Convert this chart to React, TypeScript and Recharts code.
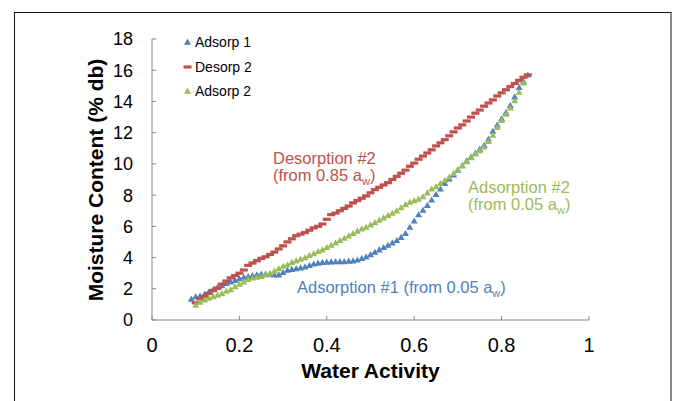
import React from 'react';
import { ScatterChart, Scatter, XAxis, YAxis, Legend } from 'recharts';

// water activity (x) and moisture content, % db (y)
const adsorp1Aw = [
  0.09, 0.10, 0.11, 0.12, 0.13, 0.14, 0.15, 0.16, 0.17, 0.18, 0.19, 0.20, 0.21, 0.22, 0.23, 0.24,
  0.25, 0.26, 0.27, 0.28, 0.29, 0.30, 0.31, 0.32, 0.33, 0.34, 0.35, 0.36, 0.37, 0.38, 0.39, 0.40,
  0.41, 0.42, 0.43, 0.44, 0.45, 0.46, 0.47, 0.48, 0.49, 0.50, 0.51, 0.52, 0.53, 0.54, 0.55, 0.56,
  0.57, 0.58, 0.59, 0.60, 0.61, 0.62, 0.63, 0.64, 0.65, 0.66, 0.67, 0.68, 0.69, 0.70, 0.71, 0.72,
  0.73, 0.74, 0.75, 0.76, 0.77, 0.78, 0.79, 0.80, 0.81, 0.82, 0.83, 0.84, 0.85, 0.86,
];
const adsorp1Mc = [
  1.35, 1.5, 1.55, 1.65, 1.8, 1.95, 2.1, 2.2, 2.35, 2.45, 2.55, 2.65, 2.75, 2.8, 2.85, 2.9,
  2.95, 2.95, 2.95, 2.9, 2.9, 3.05, 3.2, 3.25, 3.3, 3.35, 3.4, 3.5, 3.6, 3.65, 3.7, 3.72,
  3.73, 3.74, 3.75, 3.75, 3.78, 3.8, 3.85, 3.95, 4.05, 4.2, 4.35, 4.5, 4.65, 4.8, 4.95, 5.1,
  5.3, 5.55, 5.95, 6.35, 6.75, 7.05, 7.35, 7.7, 8.05, 8.4, 8.75, 9.05, 9.3, 9.6, 9.9, 10.2,
  10.45, 10.7, 10.95, 11.2, 11.6, 12.1, 12.5, 12.9, 13.3, 13.75, 14.3, 14.9, 15.3, 15.7,
];

const desorp2Aw = [
  0.10, 0.11, 0.12, 0.13, 0.14, 0.15, 0.16, 0.17, 0.18, 0.19, 0.20, 0.21, 0.22, 0.23, 0.24,
  0.25, 0.26, 0.27, 0.28, 0.29, 0.30, 0.31, 0.32, 0.33, 0.34, 0.35, 0.36, 0.37, 0.38, 0.39, 0.40,
  0.41, 0.42, 0.43, 0.44, 0.45, 0.46, 0.47, 0.48, 0.49, 0.50, 0.51, 0.52, 0.53, 0.54, 0.55, 0.56,
  0.57, 0.58, 0.59, 0.60, 0.61, 0.62, 0.63, 0.64, 0.65, 0.66, 0.67, 0.68, 0.69, 0.70, 0.71, 0.72,
  0.73, 0.74, 0.75, 0.76, 0.77, 0.78, 0.79, 0.80, 0.81, 0.82, 0.83, 0.84, 0.85, 0.86,
];
const desorp2Mc = [
  1.1, 1.35, 1.5, 1.7, 1.9, 2.05, 2.3, 2.5, 2.7, 2.85, 3.0, 3.2, 3.5, 3.65, 3.8,
  3.95, 4.05, 4.2, 4.35, 4.55, 4.75, 5.0, 5.2, 5.4, 5.5, 5.6, 5.75, 5.9, 6.0, 6.15, 6.45,
  6.75, 6.85, 7.0, 7.15, 7.3, 7.5, 7.65, 7.8, 7.95, 8.15, 8.35, 8.5, 8.65, 8.8, 9.0, 9.2,
  9.4, 9.6, 9.85, 10.05, 10.3, 10.5, 10.7, 10.9, 11.15, 11.35, 11.55, 11.8, 12.05, 12.3, 12.5, 12.75,
  13.0, 13.25, 13.45, 13.7, 13.9, 14.1, 14.35, 14.55, 14.75, 14.95, 15.15, 15.35, 15.55, 15.7,
];

const adsorp2Aw = [
  0.10, 0.11, 0.12, 0.13, 0.14, 0.15, 0.16, 0.17, 0.18, 0.19, 0.20, 0.21, 0.22, 0.23, 0.24,
  0.25, 0.26, 0.27, 0.28, 0.29, 0.30, 0.31, 0.32, 0.33, 0.34, 0.35, 0.36, 0.37, 0.38, 0.39, 0.40,
  0.41, 0.42, 0.43, 0.44, 0.45, 0.46, 0.47, 0.48, 0.49, 0.50, 0.51, 0.52, 0.53, 0.54, 0.55, 0.56,
  0.57, 0.58, 0.59, 0.60, 0.61, 0.62, 0.63, 0.64, 0.65, 0.66, 0.67, 0.68, 0.69, 0.70, 0.71, 0.72,
  0.73, 0.74, 0.75, 0.76, 0.77, 0.78, 0.79, 0.80, 0.81, 0.82, 0.83, 0.84, 0.85,
];
const adsorp2Mc = [
  0.95, 1.15, 1.3, 1.4, 1.5, 1.6, 1.7, 1.85, 1.95, 2.15, 2.3, 2.45, 2.6, 2.7, 2.75,
  2.8, 2.9, 3.0, 3.15, 3.3, 3.45, 3.55, 3.7, 3.8, 3.9, 4.0, 4.15, 4.25, 4.4, 4.5, 4.65,
  4.8, 4.95, 5.1, 5.25, 5.4, 5.55, 5.7, 5.85, 5.95, 6.1, 6.25, 6.4, 6.55, 6.7, 6.85, 7.0,
  7.2, 7.4, 7.55, 7.65, 7.75, 7.9, 8.15, 8.4, 8.55, 8.75, 8.95, 9.15, 9.4, 9.65, 9.9, 10.15,
  10.4, 10.65, 10.85, 11.1, 11.45, 11.85, 12.35, 12.8, 13.2, 13.6, 14.05, 14.6, 15.2,
];

const seriesNames = ['Adsorp 1', 'Desorp 2', 'Adsorp 2'];
const xTicks = [0, 0.2, 0.4, 0.6, 0.8, 1];
const yTicks = [0, 2, 4, 6, 8, 10, 12, 14, 16, 18];

const BLUE = '#4F81BD';
const RED = '#C0504D';
const GREEN = '#9BBB59';
const FONT = '"Liberation Sans", Arial, sans-serif';
const AXIS = '#868686';

const toPoints = (aw: number[], mc: number[]) => aw.map((x, i) => ({ x, y: mc[i] }));

const triangle = (color: string) => (props: any) => {
  const { cx, cy } = props;
  return (
    <polygon
      points={`${cx},${cy - 3.4} ${cx + 3.5},${cy + 2.7} ${cx - 3.5},${cy + 2.7}`}
      fill={color}
    />
  );
};

const dash = (props: any) => {
  const { cx, cy } = props;
  return <rect x={cx - 4} y={cy - 1.6} width={8} height={3.2} fill={RED} />;
};

// keep the legend in series order (recharts sorts it by name otherwise)
const renderLegend = (props: any) => {
  const payload = [...(props.payload || [])].sort(
    (a: any, b: any) => seriesNames.indexOf(a.value) - seriesNames.indexOf(b.value)
  );
  return (
    <div style={{ fontFamily: FONT, fontSize: 14, color: '#000' }}>
      {payload.map((entry: any) => (
        <div key={entry.value} style={{ display: 'flex', alignItems: 'center', height: 24.5 }}>
          <svg width={13} height={10} style={{ marginRight: 1 }}>
            {entry.value === 'Desorp 2' ? (
              <rect x={2.5} y={3.4} width={8} height={3.2} fill={RED} />
            ) : (
              <polygon points="6.5,1.6 10,7.8 3,7.8" fill={entry.color} />
            )}
          </svg>
          <span>{entry.value}</span>
        </div>
      ))}
    </div>
  );
};

const Sub = ({ children }: { children: string }) => (
  <tspan fontSize={11} dy={4}>{children}</tspan>
);

export default function App() {
  return (
    <div style={{ position: 'absolute', left: 0, top: 0, width: 673, height: 401, background: '#fff', overflow: 'hidden' }}>
      <div
        style={{
          position: 'absolute',
          left: 14,
          top: 12,
          width: 658,
          height: 420,
          boxSizing: 'border-box',
          borderTop: '1.5px solid #111',
          borderLeft: '1.5px solid #111',
          borderRight: '2px solid #8a8a8a',
        }}
      />
      <div style={{ position: 'absolute', left: 0, top: 0 }}>
        <ScatterChart width={673} height={401} margin={{ top: 39, right: 84, bottom: 21, left: 0 }}>
          <XAxis
            dataKey="x"
            type="number"
            domain={[0, 1]}
            ticks={xTicks}
            height={60}
            stroke={AXIS}
            tickSize={-4}
            tickMargin={22}
            tick={{ fill: '#000', fontSize: 20, fontFamily: FONT }}
          />
          <YAxis
            dataKey="y"
            type="number"
            domain={[0, 18]}
            ticks={yTicks}
            width={152}
            stroke={AXIS}
            tickSize={-4}
            tickMargin={23}
            tick={{ fill: '#000', fontSize: 18, fontFamily: FONT }}
          />
          <Legend
            layout="vertical"
            align="center"
            verticalAlign="middle"
            content={renderLegend}
            wrapperStyle={{ left: 181, top: 30, width: 120, height: 80 }}
          />
          <Scatter
            name={seriesNames[0]}
            data={toPoints(adsorp1Aw, adsorp1Mc)}
            fill={BLUE}
            shape={triangle(BLUE)}
            isAnimationActive={false}
          />
          <Scatter
            name={seriesNames[1]}
            data={toPoints(desorp2Aw, desorp2Mc)}
            fill={RED}
            shape={dash}
            isAnimationActive={false}
          />
          <Scatter
            name={seriesNames[2]}
            data={toPoints(adsorp2Aw, adsorp2Mc)}
            fill={GREEN}
            shape={triangle(GREEN)}
            isAnimationActive={false}
          />
        </ScatterChart>
      </div>
      <svg
        width={673}
        height={401}
        style={{ position: 'absolute', left: 0, top: 0, pointerEvents: 'none' }}
        fontFamily={FONT}
      >
        <text
          transform="translate(103,180) rotate(-90)"
          textAnchor="middle"
          fontSize={21}
          fontWeight="bold"
          fill="#000"
        >
          Moisture Content (% db)
        </text>
        <text x={370.5} y={377.5} textAnchor="middle" fontSize={21} fontWeight="bold" fill="#000">
          Water Activity
        </text>
        <g fontSize={16.5} fill={RED}>
          <text x={273} y={163.5}>Desorption #2</text>
          <text x={273} y={181}>
            (from 0.85 a<Sub>w</Sub>
            <tspan dy={-4}>)</tspan>
          </text>
        </g>
        <g fontSize={16.5} fill={GREEN}>
          <text x={468} y={192.5}>Adsorption #2</text>
          <text x={468} y={210}>
            (from 0.05 a<Sub>w</Sub>
            <tspan dy={-4}>)</tspan>
          </text>
        </g>
        <g fontSize={16.5} fill={BLUE}>
          <text x={297} y={293}>
            Adsorption #1 (from 0.05 a<Sub>w</Sub>
            <tspan dy={-4}>)</tspan>
          </text>
        </g>
      </svg>
    </div>
  );
}
